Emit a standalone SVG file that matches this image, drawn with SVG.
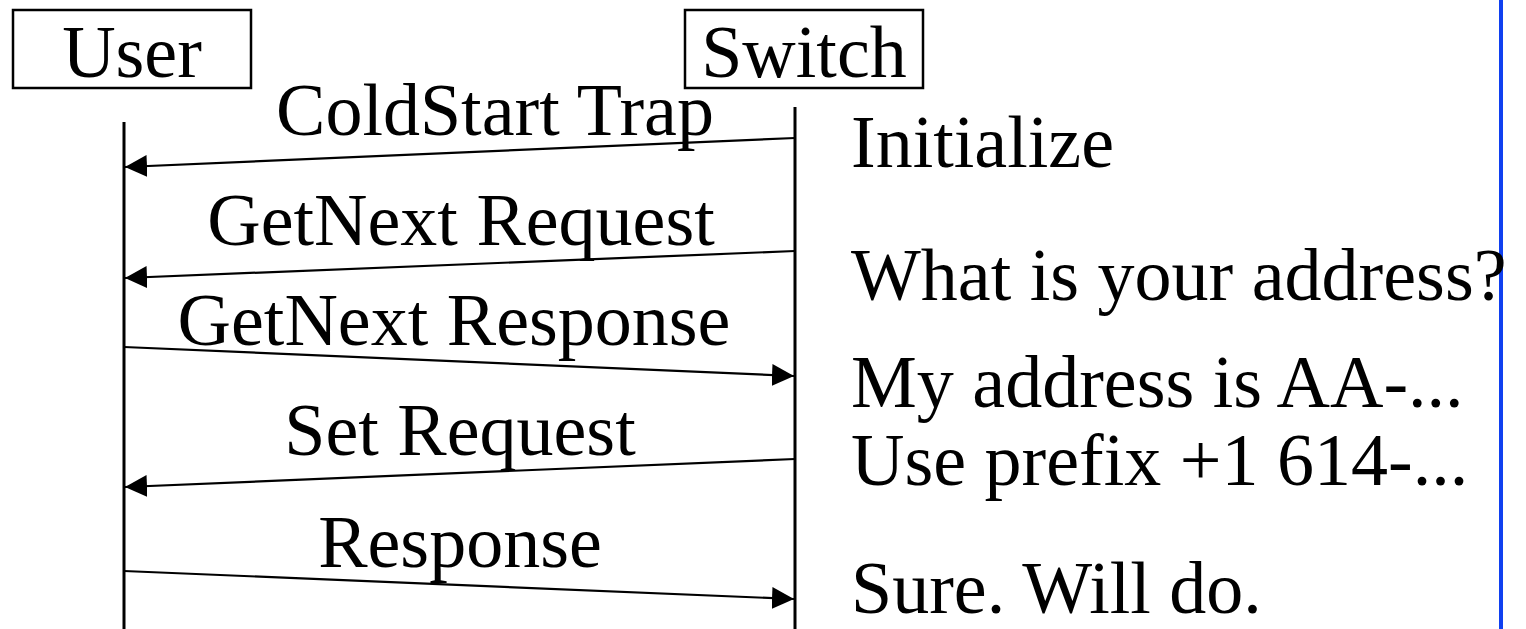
<svg xmlns="http://www.w3.org/2000/svg" width="1526" height="629" viewBox="0 0 1526 629">
  <style>
    text { font-family: "Liberation Serif", "Times New Roman", serif; font-size: 74px; fill: #000; }
    .box { fill: #fff; stroke: #000; stroke-width: 2.5; }
    .life { stroke: #000; stroke-width: 3; }
    .msg { stroke: #000; stroke-width: 2.2; fill: none; marker-end: url(#ah); }
    .mid { text-anchor: middle; }
  </style>
  <defs>
    <marker id="ah" viewBox="0 0 22 22" refX="22" refY="11" markerWidth="22" markerHeight="22" markerUnits="userSpaceOnUse" orient="auto">
      <path d="M0,0 L22,11 L0,22 Z" fill="#000"/>
    </marker>
  </defs>
  <rect width="1526" height="629" fill="#fff"/>
  <line x1="1501" y1="0" x2="1501" y2="629" stroke="#1040f0" stroke-width="4"/>

  <g id="user">
    <rect class="box" x="13" y="10" width="238" height="78"/>
    <text class="mid" x="132" y="77">User</text>
    <line class="life" x1="124" y1="122" x2="124" y2="629"/>
  </g>
  <g id="switch">
    <rect class="box" x="685" y="10" width="238" height="78"/>
    <text class="mid" x="804" y="77">Switch</text>
    <line class="life" x1="795" y1="107" x2="795" y2="629"/>
  </g>

  <g id="connectors">
    <line class="msg" x1="795" y1="138" x2="125" y2="167"/>
    <line class="msg" x1="795" y1="251" x2="125" y2="278"/>
    <line class="msg" x1="124" y1="347" x2="794" y2="376"/>
    <line class="msg" x1="795" y1="459" x2="125" y2="487"/>
    <line class="msg" x1="124" y1="571" x2="794" y2="599"/>
  </g>

  <g id="labels">
    <text class="mid" x="495" y="135">ColdStart Trap</text>
    <text class="mid" x="461" y="245">GetNext Request</text>
    <text class="mid" x="454" y="345">GetNext Response</text>
    <text class="mid" x="460" y="455">Set Request</text>
    <text class="mid" x="460" y="567">Response</text>
  </g>

  <g id="notes">
    <text x="851" y="167">Initialize</text>
    <text x="851" y="300">What is your address?</text>
    <text x="851" y="407">My address is AA-...</text>
    <text x="851" y="485">Use prefix +1 614-...</text>
    <text x="851" y="613">Sure. Will do.</text>
  </g>
</svg>
